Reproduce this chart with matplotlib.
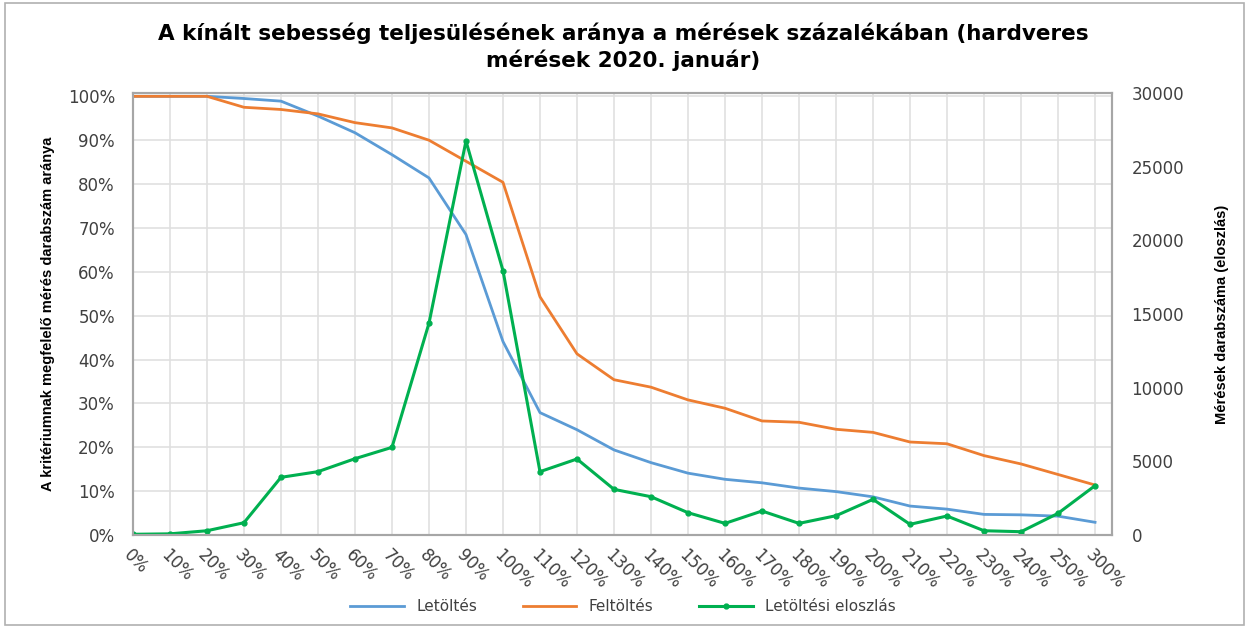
"""Kínált sebesség teljesülése - hardveres mérések 2020. január."""
import matplotlib

matplotlib.use("Agg")
import matplotlib.pyplot as plt
from matplotlib.patches import Rectangle

categories = ["0%", "10%", "20%", "30%", "40%", "50%", "60%", "70%", "80%", "90%",
              "100%", "110%", "120%", "130%", "140%", "150%", "160%", "170%", "180%",
              "190%", "200%", "210%", "220%", "230%", "240%", "250%", "300%"]

# share of measurements meeting the criterion (percent)
letoltes = [100, 100, 100, 99.5, 98.9, 95.5, 91.7, 86.7, 81.4, 68.5, 44.1, 27.9, 24.0,
            19.4, 16.5, 14.1, 12.7, 11.9, 10.7, 9.9, 8.7, 6.6, 5.9, 4.7, 4.6, 4.3, 2.9]
feltoltes = [100, 100, 100, 97.5, 97.0, 96.0, 94.0, 92.8, 90.0, 85.2, 80.4, 54.3, 41.3,
             35.4, 33.7, 30.8, 28.9, 26.0, 25.7, 24.1, 23.4, 21.2, 20.8, 18.1, 16.2, 13.8, 11.4]
# number of measurements (distribution), right axis
eloszlas = [50, 80, 290, 835, 3915, 4300, 5180, 5950, 14370, 26740, 17940, 4300, 5160,
            3100, 2600, 1515, 790, 1630, 790, 1310, 2420, 725, 1290, 290, 225, 1470, 3350]

BLUE = "#5B9BD5"
ORANGE = "#ED7D31"
GREEN = "#00B050"
TXT = "#404040"

fig = plt.figure(figsize=(12.46, 6.27), dpi=100)
fig.patches.append(Rectangle((0.004, 0.003), 0.994, 0.993, transform=fig.transFigure,
                             fill=False, edgecolor="#b0b0b0", lw=1.2))
ax = fig.add_axes([0.1067, 0.1467, 0.7858, 0.705])
ax2 = ax.twinx()

x = list(range(len(categories)))
ax.plot(x, [v / 100 for v in letoltes], color=BLUE, lw=2, label="Letöltés", zorder=3)
ax.plot(x, [v / 100 for v in feltoltes], color=ORANGE, lw=2, label="Feltöltés", zorder=3)
ax2.plot(x, eloszlas, color=GREEN, lw=2.2, marker="o", ms=3.5, label="Letöltési eloszlás")

ax.set_xlim(0, 26.46)
ax.set_ylim(0, 1.0076)
ax2.set_ylim(0, 30000)
ax.set_yticks([i / 10 for i in range(11)])
ax.set_yticklabels([f"{i * 10}%" for i in range(11)])
ax2.set_yticks(range(0, 30001, 5000))
ax.set_xticks(x)
ax.set_xticklabels(categories, rotation=-45, ha="left", rotation_mode="anchor")

ax.grid(True, color="#e0e0e0", lw=1.2)
ax.set_axisbelow(True)
for a in (ax, ax2):
    for s in a.spines.values():
        s.set_color("#a6a6a6")
        s.set_linewidth(1.5)
    a.tick_params(length=0, labelsize=12, labelcolor=TXT)
ax.tick_params(axis="x", pad=8)
ax.tick_params(axis="y", pad=13)
ax2.tick_params(axis="y", pad=14)

narrow = ["Liberation Sans", "DejaVu Sans"]
ax.set_ylabel("A kritériumnak megfelelő mérés darabszám aránya", fontsize=10.5,
              family=narrow, fontweight="bold", color="black", labelpad=9)
ax2.set_ylabel("Mérések darabszáma (eloszlás)", fontsize=10.5, family=narrow,
               fontweight="bold", color="black", labelpad=22)

fig.text(0.5, 0.925, "A kínált sebesség teljesülésének aránya a mérések százalékában (hardveres\nmérések 2020. január)",
         ha="center", va="center", fontsize=15.5, fontweight="bold", linespacing=1.3)

h1, l1 = ax.get_legend_handles_labels()
h2, l2 = ax2.get_legend_handles_labels()
fig.legend(h1 + h2, l1 + l2, loc="center", bbox_to_anchor=(0.5, 0.032), ncol=3,
           frameon=False, fontsize=11, handlelength=3.5, columnspacing=3,
           labelcolor=TXT)

fig.savefig("out.png", dpi=100)
